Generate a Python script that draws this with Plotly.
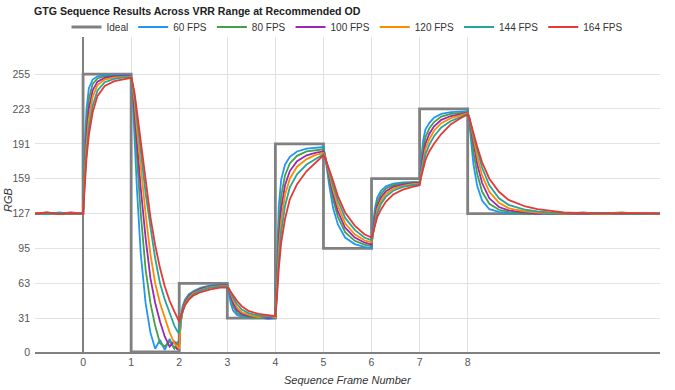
import plotly.graph_objects as go

# Sample times (sequence frame number)
X = [-1.0, -0.75, -0.5, -0.25,
     0, 0.03, 0.07, 0.12, 0.2, 0.3, 0.45, 0.65, 0.85,
     1, 1.03, 1.07, 1.12, 1.2, 1.3, 1.4, 1.5, 1.6, 1.7, 1.8, 1.9, 1.96,
     2, 2.03, 2.07, 2.12, 2.2, 2.3, 2.45, 2.65, 2.85,
     3, 3.03, 3.07, 3.12, 3.2, 3.3, 3.45, 3.65, 3.85,
     4, 4.03, 4.07, 4.12, 4.2, 4.3, 4.45, 4.65, 4.85,
     5, 5.03, 5.07, 5.12, 5.2, 5.3, 5.45, 5.65, 5.85,
     6, 6.03, 6.07, 6.12, 6.2, 6.3, 6.45, 6.65, 6.85,
     7, 7.03, 7.07, 7.12, 7.2, 7.3, 7.45, 7.65, 7.85,
     8, 8.03, 8.07, 8.12, 8.2, 8.3, 8.45, 8.65, 8.85,
     9, 9.2, 9.45, 9.7, 10, 10.4, 10.8, 11.2, 11.6, 12]

FPS_60 = [127.5, 126.5, 128, 127,
          127, 185, 222, 242, 250, 253, 254, 254, 254,
          254, 235, 195, 150, 90, 45, 18, 3, 11, 2, 12, 3, 9,
          7, 30, 42, 48, 53, 56, 59, 61, 62,
          62, 55, 45, 38, 34, 32.5, 31.5, 32, 30.5,
          31, 85, 133, 158, 172, 179, 184, 186.5, 187.5,
          188, 181, 167, 153, 132, 117, 105, 99, 96.5,
          95, 115, 132, 142, 148, 152, 154.5, 155.5, 156,
          156, 175, 193, 204, 210, 215, 218.5, 220, 220.5,
          221, 212, 192, 172, 152, 139, 131, 128.5, 127.5,
          127, 127.5, 126.5, 127.5, 127, 128, 126.5, 127, 127.5, 127]

FPS_80 = [127, 128, 126.5, 127.5,
          127, 172, 208, 232, 246, 251, 253, 253.5, 253.5,
          253.5, 240, 212, 177, 127, 76, 45, 24, 8, 5, 10, 3, 8,
          6, 28, 40, 47, 52, 55, 58.5, 60.5, 61.5,
          61.5, 57, 49, 42, 36, 33.5, 32, 31, 32,
          31.5, 70, 115, 143, 162, 173, 180, 184, 185.5,
          186, 181, 171, 159, 140, 124, 110, 102, 98.5,
          97, 112, 127, 138, 145, 150, 153, 154.5, 155.5,
          155.5, 170, 186, 197, 205, 211, 216, 218.5, 219.5,
          220, 214, 200, 183, 163, 147, 136, 130.5, 128.5,
          128, 127, 127.5, 127, 126.5, 127.5, 127, 128, 126.5, 127.5]

FPS_100 = [126.5, 127.5, 127, 128,
           127, 165, 199, 223, 240, 248, 251.5, 253, 253,
           253, 243, 223, 193, 150, 105, 68, 45, 28, 14, 5, 10, 2,
           7, 27, 38, 45, 51, 54.5, 58, 60, 61,
           61, 58, 52, 45, 38.5, 35, 33, 32.5, 31,
           32, 62, 103, 131, 153, 166, 175, 180.5, 183,
           184, 180, 172, 162, 145, 129, 114, 105, 100.5,
           98.5, 110, 123, 134, 142, 147.5, 151.5, 153.5, 155,
           155, 167, 180, 191, 200, 207, 213, 216.5, 218.5,
           219.5, 215, 204, 190, 172, 155, 141, 133, 130,
           129, 128, 127, 127.5, 127, 126.5, 127.5, 127, 127.5, 127]

FPS_120 = [127.5, 127, 126.5, 127.5,
           127, 159, 190, 214, 234, 245, 250, 252, 252.5,
           252.5, 244, 230, 205, 168, 127, 90, 63, 45, 31, 18, 8, 5,
           3, 26, 37, 44, 50, 54, 57, 59.5, 60.5,
           60.5, 58.5, 54, 48, 41, 36.5, 34, 32, 33,
           32, 56, 93, 120, 144, 159, 170, 177, 181,
           182.5, 179.5, 173, 164, 149, 134, 118, 108, 102.5,
           100.5, 109, 120, 131, 139, 145, 150, 152.5, 154,
           154.5, 164, 175, 186, 195, 203, 210, 214.5, 217,
           219, 215.5, 207, 195, 179, 162, 147, 137, 132,
           130.5, 129, 128, 127.5, 127, 127.5, 126.5, 127.5, 127, 127]

FPS_144 = [127, 126.5, 127.5, 127,
           127, 154, 182, 205, 226, 240, 247.5, 250.5, 252,
           252, 246, 235, 215, 183, 146, 115, 86, 63, 48, 36, 24, 19,
           17, 29, 37, 43, 49, 53, 56.5, 59, 60,
           60, 58.5, 55, 50, 44, 39, 35.5, 33.5, 32.5,
           33, 52, 84, 110, 134, 151, 163, 172, 177.5,
           181.5, 179, 173.5, 166, 153, 139, 123, 112, 105,
           102.5, 109, 118, 127.5, 136, 142.5, 148, 151.5, 153,
           154, 162, 171, 181, 190, 198, 206, 212, 215.5,
           218.5, 215.5, 209, 199, 185, 169, 153, 141, 135,
           133, 130.5, 129, 128, 127.5, 127, 127.5, 127, 126.5, 127.5]

FPS_164 = [127, 128, 126.5, 127.5,
           127, 151, 177, 199, 220, 235, 244, 248.5, 250.5,
           251.5, 247, 238, 221, 192, 155, 124, 98, 77, 60, 47, 37, 31,
           28, 33, 38, 43, 48, 52, 55, 57.5, 59,
           59, 58, 55.5, 52, 47, 42, 37.5, 35, 33.5,
           33, 48, 76, 100, 122, 140, 154, 166, 174,
           180.5, 178.5, 174, 167.5, 157, 143, 128, 116, 108,
           105, 109, 116, 124, 131, 138, 144.5, 149, 151.5,
           153, 160, 167, 176, 184, 191, 200, 209, 214.5,
           218, 215.5, 210, 201, 188, 174, 159, 147, 139.5,
           137, 133.5, 131, 129.5, 128, 127.5, 127, 127.5, 127, 127]

IDEAL_X = [-1, 0, 1, 2, 3, 4, 5, 6, 7, 8, 12]
IDEAL = [127, 255, 0, 63, 31, 191, 95, 159, 223, 127, 127]

SERIES = [("60 FPS", FPS_60, "#2196F3"),
          ("80 FPS", FPS_80, "#43A047"),
          ("100 FPS", FPS_100, "#9C27B0"),
          ("120 FPS", FPS_120, "#FB8C00"),
          ("144 FPS", FPS_144, "#26A69A"),
          ("164 FPS", FPS_164, "#E53935")]

Y_TICKS = [0, 31, 63, 95, 127, 159, 191, 223, 255]
X_TICKS = [0, 1, 2, 3, 4, 5, 6, 7, 8]

FONT = "Arial, Liberation Sans, sans-serif"

fig = go.Figure()
fig.add_trace(go.Scatter(x=IDEAL_X, y=IDEAL, name="Ideal", mode="lines",
                         line=dict(color="#808080", width=2.8, shape="hv")))
for name, vals, col in SERIES:
    fig.add_trace(go.Scatter(x=X, y=vals, name=name, mode="lines",
                             line=dict(color=col, width=1.8)))

fig.update_layout(
    width=675, height=390,
    margin=dict(l=35, r=15, t=37, b=38, autoexpand=False),
    plot_bgcolor="white", paper_bgcolor="white",
    font=dict(family=FONT, size=11, color="#444"),
    title=dict(text="<b>GTG Sequence Results Across VRR Range at Recommended OD</b>",
               xref="container", x=34 / 675, xanchor="left",
               yref="container", y=1 - 11 / 390, yanchor="middle",
               font=dict(family=FONT, size=10.6, color="#222")),
    legend=dict(orientation="h", xref="paper", x=0.5, xanchor="center",
                yref="paper", y=1 + 10 / 315, yanchor="middle",
                font=dict(family=FONT, size=10, color="#333"),
                bgcolor="rgba(0,0,0,0)", itemwidth=30),
    showlegend=True,
)

fig.update_xaxes(range=[-1, 12], tickmode="array", tickvals=X_TICKS,
                 ticktext=[str(v) for v in X_TICKS],
                 showgrid=True, gridcolor="#e2e2e2", gridwidth=1,
                 zeroline=True, zerolinecolor="#808080", zerolinewidth=1.6,
                 showline=True, linecolor="#808080", linewidth=1.6,
                 ticks="", tickfont=dict(size=10.5, color="#555"))
fig.update_yaxes(range=[0, 289], tickmode="array", tickvals=Y_TICKS,
                 ticktext=[str(v) for v in Y_TICKS],
                 showgrid=True, gridcolor="#e2e2e2", gridwidth=1,
                 zeroline=False, showline=False,
                 ticks="", ticklabelstandoff=4,
                 tickfont=dict(size=10.5, color="#555"))

fig.add_annotation(text="<i>RGB</i>", xref="paper", yref="paper",
                   x=-27 / 625, y=(352 - 200) / 315, xanchor="center", yanchor="middle",
                   textangle=-90, showarrow=False,
                   font=dict(family=FONT, size=11, color="#333"))
fig.add_annotation(text="<i>Sequence Frame Number</i>", xref="paper", yref="paper",
                   x=0.5, y=-(380 - 352) / 315, xanchor="center", yanchor="middle",
                   showarrow=False, font=dict(family=FONT, size=11, color="#333"))

fig.write_html("out.html", config={"displayModeBar": False},
               post_script="document.body.style.margin='0';document.body.style.padding='0';")
